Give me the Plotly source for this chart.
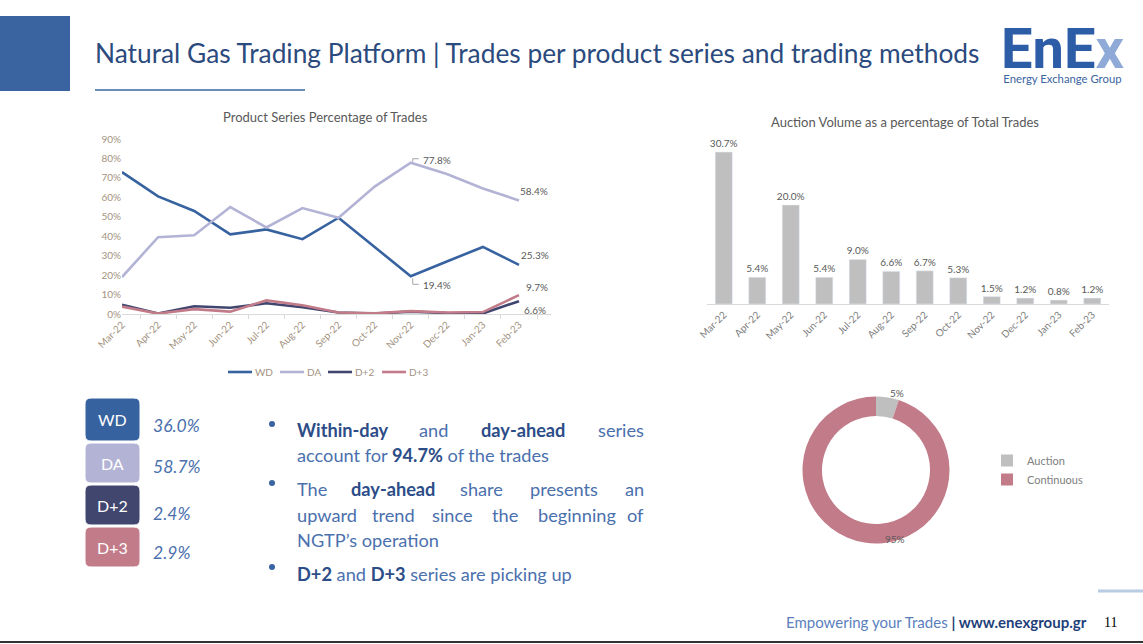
import plotly.graph_objects as go

W, H = 1143, 644

def px(x):
    return x / W

def py(y):
    return 1 - y / H

# ---------------- data ----------------
months = ["Mar-22", "Apr-22", "May-22", "Jun-22", "Jul-22", "Aug-22", "Sep-22",
          "Oct-22", "Nov-22", "Dec-22", "Jan-23", "Feb-23"]
wd = [73.0, 60.5, 53.0, 41.0, 43.5, 38.5, 49.5, 34.5, 19.4, 27.0, 34.5, 25.3]
da = [19.0, 39.5, 40.5, 55.0, 44.5, 54.5, 49.5, 65.5, 77.8, 72.0, 64.5, 58.4]
d2 = [4.8, 0.3, 4.0, 3.2, 5.5, 3.5, 0.8, 0.2, 1.2, 0.5, 0.3, 6.6]
d3 = [3.8, 0.2, 2.5, 1.2, 7.0, 4.5, 0.8, 0.3, 1.5, 0.8, 1.0, 9.7]

auction_pct = [30.7, 5.4, 20.0, 5.4, 9.0, 6.6, 6.7, 5.3, 1.5, 1.2, 0.8, 1.2]

method_labels = ["Auction", "Continuous"]
method_share = [5, 95]

series_names = ["WD", "DA", "D+2", "D+3"]
series_share = [36.0, 58.7, 2.4, 2.9]

# ---------------- styles ----------------
C_WD = "#3762A0"
C_DA = "#B3B4D5"
C_D2 = "#41466F"
C_D3 = "#C27B89"
C_BAR = "#BFBFBF"
GREY = "#595959"
TICK = "#A3937F"
LEG = "#808080"
FONT = "Lato"
series_colors = [C_WD, C_DA, C_D2, C_D3]

fig = go.Figure()

for name, vals, col in zip(series_names, [wd, da, d2, d3], series_colors):
    fig.add_trace(go.Scatter(
        x=months, y=vals, name=name, mode="lines",
        line=dict(color=col, width=2.6), xaxis="x", yaxis="y",
        showlegend=False, hoverinfo="skip"))

fig.add_trace(go.Bar(
    x=months, y=auction_pct, marker=dict(color=C_BAR), xaxis="x2", yaxis="y2",
    text=[f"{v:.1f}%" for v in auction_pct], textposition="outside",
    constraintext="none",
    textfont=dict(size=10, color=GREY, family=FONT), cliponaxis=False,
    showlegend=False, hoverinfo="skip"))

fig.add_trace(go.Pie(
    labels=method_labels, values=method_share, hole=0.735, sort=False,
    direction="clockwise", rotation=0, textinfo="none",
    marker=dict(colors=[C_BAR, "#C27B89"]),
    domain=dict(x=[px(802.5), px(949.5)], y=[py(543.5), py(396.5)]),
    legend="legend2", hoverinfo="skip"))

annotations = []
shapes = []

# ---- slide frame ----
shapes.append(dict(type="rect", xref="paper", yref="paper", x0=px(0), x1=px(70),
                   y0=py(91), y1=py(16), fillcolor="#3A64A0", line=dict(width=0)))
shapes.append(dict(type="line", xref="paper", yref="paper", x0=px(95), x1=px(305),
                   y0=py(90), y1=py(90), line=dict(color="#3A64A0", width=1.5)))
shapes.append(dict(type="line", xref="paper", yref="paper", x0=px(1098), x1=px(1143),
                   y0=py(591), y1=py(591), line=dict(color="#B8CCE4", width=3)))
shapes.append(dict(type="line", xref="paper", yref="paper", x0=px(0), x1=px(1143),
                   y0=py(642), y1=py(642), line=dict(color="#333333", width=2)))

annotations.append(dict(
    text="Natural Gas Trading Platform | Trades per product series and trading methods",
    xref="paper", yref="paper", x=px(93), y=py(53), xanchor="left", yanchor="middle",
    showarrow=False, font=dict(family=FONT, size=26.3, color="#2B4A7D")))

# logo (one text block: big letters + group name)
annotations.append(dict(
    text=("<span style='font-size:56px;font-family:Roboto;color:#2E5DA8'><b>EnE"
          "<span style='color:#8FAAD6'>x</span></b></span><br>Energy Exchange Group"),
    xref="paper", yref="paper", x=px(1062), y=py(87), align="center",
    xanchor="center", yanchor="bottom", showarrow=False,
    font=dict(family=FONT, size=11.3, color="#3A64A0")))

# footer
annotations.append(dict(
    text="Empowering your Trades <span style='color:#1F3F7A'><b>| www.enexgroup.gr</b></span>",
    xref="paper", yref="paper", x=px(1089), y=py(622), xanchor="right", yanchor="middle",
    showarrow=False, font=dict(family=FONT, size=15, color="#5B80BD")))
annotations.append(dict(
    text="11", xref="paper", yref="paper", x=px(1110), y=py(622), xanchor="center",
    yanchor="middle", showarrow=False,
    font=dict(family="Liberation Serif", size=14, color="#000000")))

# ---- chart titles ----
annotations.append(dict(
    text="Product Series Percentage of Trades", xref="paper", yref="paper",
    x=px(325), y=py(117), xanchor="center", yanchor="middle", showarrow=False,
    font=dict(family=FONT, size=13, color=GREY)))
annotations.append(dict(
    text="Auction Volume as a percentage of Total Trades", xref="paper", yref="paper",
    x=px(905), y=py(122), xanchor="center", yanchor="middle", showarrow=False,
    font=dict(family=FONT, size=13, color=GREY)))

# ---- line chart legend (below chart) ----
leg_x = [228, 280, 328, 382]
for name, col, lx in zip(series_names, series_colors, leg_x):
    shapes.append(dict(type="line", xref="paper", yref="paper", x0=px(lx), x1=px(lx + 24),
                       y0=py(372), y1=py(372), line=dict(color=col, width=2.6)))
    annotations.append(dict(text=name, xref="paper", yref="paper", x=px(lx + 25),
                            y=py(372), xanchor="left", yanchor="middle", showarrow=False,
                            font=dict(family=FONT, size=10, color=TICK)))

# ---- line chart data labels ----
lab_font = dict(family=FONT, size=10, color=GREY)
def dlabel(xcat, yval, xs, ys):
    annotations.append(dict(text=f"{yval}%", x=xcat, y=yval, xref="x", yref="y",
                            xanchor="left", yanchor="middle", xshift=xs, yshift=ys,
                            showarrow=False, font=lab_font))

dlabel(months[8], da[8], 10, 3)
dlabel(months[8], wd[8], 10, -9)
dlabel(months[11], da[11], -1, 9.5)
dlabel(months[11], wd[11], 0, 10)
dlabel(months[11], d3[11], 5, 8)
dlabel(months[11], d2[11], 3, -9)

# leader lines
shapes.append(dict(type="path", xref="x", yref="y", xsizemode="pixel", ysizemode="pixel",
                   xanchor=8, yanchor=da[8], path="M 2,1 L 2,4 L 8,4",
                   line=dict(color="#A6A6A6", width=1)))
shapes.append(dict(type="path", xref="x", yref="y", xsizemode="pixel", ysizemode="pixel",
                   xanchor=8, yanchor=wd[8], path="M 2,-2 L 2,-8 L 8,-8",
                   line=dict(color="#A6A6A6", width=1)))

# pie labels
annotations.append(dict(text=f"{method_share[0]}%", xref="paper", yref="paper",
                        x=px(906), y=py(393), showarrow=False, font=lab_font))
annotations.append(dict(text=f"{method_share[1]}%", xref="paper", yref="paper",
                        x=px(907), y=py(547), showarrow=False, font=lab_font))

# ---- left boxes ----
def rrect(x0, y0, x1, y1, r, color):
    X = lambda v: px(v)
    Y = lambda v: py(v)
    path = (f"M {X(x0+r)},{Y(y0)} L {X(x1-r)},{Y(y0)} Q {X(x1)},{Y(y0)} {X(x1)},{Y(y0+r)} "
            f"L {X(x1)},{Y(y1-r)} Q {X(x1)},{Y(y1)} {X(x1-r)},{Y(y1)} "
            f"L {X(x0+r)},{Y(y1)} Q {X(x0)},{Y(y1)} {X(x0)},{Y(y1-r)} "
            f"L {X(x0)},{Y(y0+r)} Q {X(x0)},{Y(y0)} {X(x0+r)},{Y(y0)} Z")
    shapes.append(dict(type="path", xref="paper", yref="paper", path=path,
                       fillcolor=color, line=dict(color="white", width=1)))

box_rows = [(398, 441), (443, 483), (485, 525), (527, 567)]
pct_y = [425, 467, 513, 552]
for (y0, y1), name, share, col, pyy in zip(box_rows, series_names, series_share,
                                            series_colors, pct_y):
    rrect(85, y0, 140, y1, 6, col)
    annotations.append(dict(text=name, xref="paper", yref="paper", x=px(112.5),
                            y=py((y0 + y1) / 2), xanchor="center", yanchor="middle",
                            showarrow=False,
                            font=dict(family=FONT, size=16, color="white")))
    annotations.append(dict(text=f"<i>{share:.1f}%</i>", xref="paper", yref="paper",
                            x=px(151), y=py(pyy), xanchor="left", yanchor="middle",
                            showarrow=False,
                            font=dict(family=FONT, size=17.5, color="#4A70AD")))

# ---- bullets ----
TXT = "#4A70AD"
BOLD = "#2C4D88"
bfont = dict(family=FONT, size=18.2, color=TXT)
def b(s):
    return f"<span style='color:{BOLD}'><b>{s}</b></span>"

def word(text, x, y, anchor):
    annotations.append(dict(text=text, xref="paper", yref="paper", x=px(x), y=py(y),
                            xanchor=anchor, yanchor="middle", showarrow=False, font=bfont))

L, R = 295, 646
word(b("Within-day"), L, 430, "left")
word("and", 433, 430, "center")
word(b("day-ahead"), 523, 430, "center")
word("series", R, 430, "right")
word("account for " + b("94.7%") + " of the trades", L, 455, "left")
word("The", L, 489, "left")
word(b("day-ahead"), 393, 489, "center")
word("share", 481, 489, "center")
word("presents", 564, 489, "center")
word("an", R, 489, "right")
word("upward", L, 515, "left")
word("trend", 393, 515, "center")
word("since", 452, 515, "center")
word("the", 505, 515, "center")
word("beginning", 577, 515, "center")
word("of", R, 515, "right")
word("NGTP\u2019s operation", L, 540, "left")
word(b("D+2") + " and " + b("D+3") + " series are picking up", L, 574, "left")

for yb in [424, 483, 567]:
    shapes.append(dict(type="circle", xref="paper", yref="paper",
                       x0=px(269), x1=px(275), y0=py(yb + 3), y1=py(yb - 3),
                       fillcolor="#3A64A0", line=dict(width=0)))

tickfont = dict(family=FONT, size=10, color=TICK)

fig.update_layout(
    width=W, height=H, margin=dict(l=0, r=0, t=0, b=0, pad=0, autoexpand=False),
    paper_bgcolor="white", plot_bgcolor="rgba(0,0,0,0)",
    font=dict(family=FONT, color=GREY),
    xaxis=dict(domain=[px(122), px(551)], type="category", showline=True,
               linecolor="#D9D9D9", linewidth=1, ticks="outside", tickson="boundaries",
               ticklen=4, tickcolor="#D9D9D9", tickangle=-45, tickfont=tickfont,
               showgrid=False, zeroline=False, anchor="y", fixedrange=True,
               automargin=False),
    yaxis=dict(domain=[py(314), py(139)], range=[0, 90], dtick=10, ticksuffix="%",
               showgrid=False, zeroline=False, showline=False, tickfont=tickfont,
               anchor="x", fixedrange=True, automargin=False),
    xaxis2=dict(domain=[px(707), px(1109)], type="category", showline=True,
                linecolor="#D9D9D9", linewidth=1, ticks="", tickangle=-45,
                tickfont=dict(family=FONT, size=10, color=LEG), showgrid=False,
                zeroline=False, anchor="y2", fixedrange=True, automargin=False),
    yaxis2=dict(domain=[py(304), py(145.6)], range=[0, 32], visible=False,
                showgrid=False, zeroline=False, anchor="x2", fixedrange=True,
                automargin=False),
    bargap=0.49,
    legend2=dict(orientation="v", x=px(987), y=py(470), xanchor="left",
                 yanchor="middle", font=dict(family=FONT, size=11, color=LEG),
                 bgcolor="rgba(0,0,0,0)", itemwidth=30),
    annotations=annotations, shapes=shapes, showlegend=True,
)

fig.write_html("out.html")
